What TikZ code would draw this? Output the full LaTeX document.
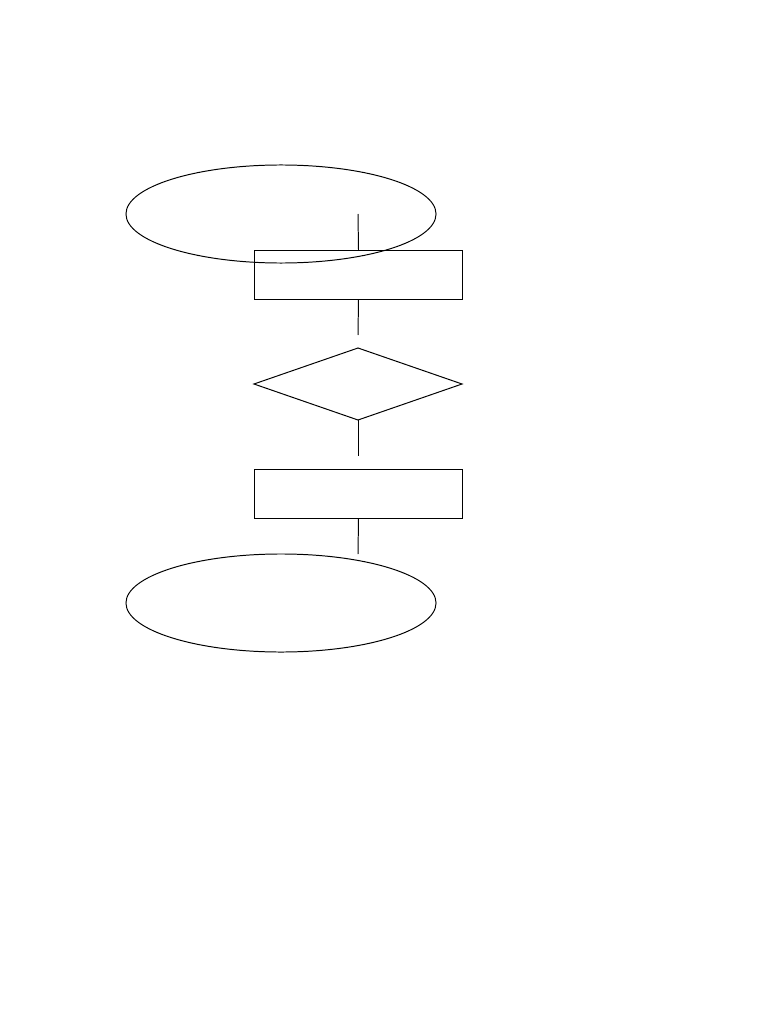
\documentclass[tikz,border=0pt]{standalone}
\usetikzlibrary{shapes.geometric}
\begin{document}
\begin{tikzpicture}[x=0.025cm,y=-0.025cm,line width=0.7pt,
	endpoint/.style={ellipse,draw,inner sep=0pt,outer sep=0pt,minimum width=7.75cm,minimum height=2.45cm},
	procbox/.style={rectangle,draw,inner sep=0pt,outer sep=0pt,minimum width=5.175cm,minimum height=1.225cm},
	choice/.style={diamond,draw,inner sep=0pt,outer sep=0pt,shape aspect=2.9,minimum width=5.2cm,minimum height=1.8cm}]
	\useasboundingbox (0,0) rectangle (768,1024);
	\node[endpoint] (start) at (281,214) {};
	\node[procbox] (box1) at (358.5,274.5) {};
	\node[choice] (test) at (358,384) {};
	\node[procbox] (box2) at (358.5,493.5) {};
	\node[endpoint] (stop) at (281,603) {};
	\coordinate (c1) at (358,214);
	\coordinate (c2) at (358,335);
	\coordinate (c3) at (358,456);
	\coordinate (c4) at (358,554);
	\draw (c1) -- (box1.north);
	\draw (box1.south) -- (c2);
	\draw (test.south) -- (c3);
	\draw (box2.south) -- (c4);
	%\draw (c2) -- (test.north);
\end{tikzpicture}
\end{document}
